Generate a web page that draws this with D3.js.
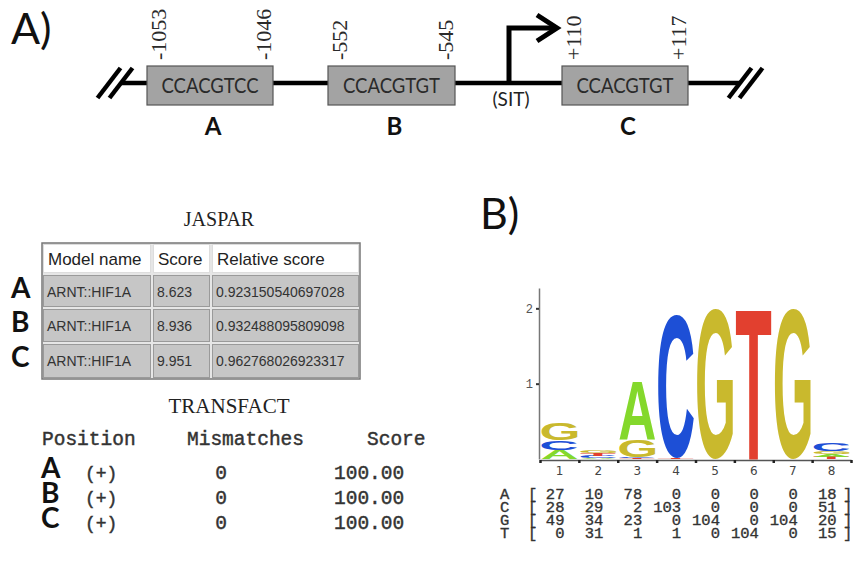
<!DOCTYPE html>
<html><head><meta charset="utf-8">
<script src="https://cdn.jsdelivr.net/npm/d3@7"></script>
<style>html,body{margin:0;padding:0;background:#fff;} svg{display:block;}</style>
</head><body>
<svg id="chart" width="861" height="569"></svg>
<script>
// ---------------- Data ----------------
const siteLabels = ["A", "B", "C"];
const siteSeqs = ["CCACGTCC", "CCACGTGT", "CCACGTGT"];
const siteStarts = [-1053, -552, 110];
const siteEnds = [-1046, -545, 117];
const startLabels = ["-1053", "-552", "+110"];
const endLabels = ["-1046", "-545", "+117"];
const tssPos = 0;
const tssLabel = "(SIT)";

const jasparTitle = "JASPAR";
const jasparHeaders = ["Model name", "Score", "Relative score"];
const jasparModels = ["ARNT::HIF1A", "ARNT::HIF1A", "ARNT::HIF1A"];
const jasparScores = ["8.623", "8.936", "9.951"];
const jasparRelScores = ["0.923150540697028", "0.932488095809098", "0.962768026923317"];

const transfactTitle = "TRANSFACT";
const transfactHeaders = ["Position", "Mismatches", "Score"];
const transfactStrands = ["(+)", "(+)", "(+)"];
const transfactMismatches = ["0", "0", "0"];
const transfactScores = ["100.00", "100.00", "100.00"];

const logoPositions = [1, 2, 3, 4, 5, 6, 7, 8];
const bases = ["A", "C", "G", "T"];
const countsA = [27, 10, 78, 0, 0, 0, 0, 18];
const countsC = [28, 29, 2, 103, 0, 0, 0, 51];
const countsG = [49, 34, 23, 0, 104, 0, 104, 20];
const countsT = [0, 31, 1, 1, 0, 104, 0, 15];
const yTickValues = [1, 2];

// ---------------- Setup ----------------
const svg = d3.select("#chart");
const sans = "Lato, 'Open Sans', sans-serif";
const serif = "'Liberation Serif', 'Times New Roman', serif";
const arial = "'Liberation Sans', Arial, sans-serif";
const mono = "'Liberation Mono', 'Courier New', monospace";

// Panel labels
svg.append("text").attr("x", 11).attr("y", 44).text("A)")
  .attr("font-family", sans).attr("font-size", 43).attr("fill", "#111");
svg.append("text").attr("x", 480).attr("y", 229).text("B)")
  .attr("font-family", sans).attr("font-size", 43).attr("fill", "#111");

// ---------------- Panel A : promoter schematic ----------------
const gx = d3.scaleLinear()
  .domain([-1250, -1053, -1046, -552, -545, tssPos, 110, 117, 300])
  .range([121, 147, 273, 328, 455, 509, 562, 688, 740]);
const lineY = 83;
const boxTop = 66, boxH = 39;
const gA = svg.append("g");

gA.append("line").attr("x1", gx(-1250)).attr("x2", gx(300))
  .attr("y1", lineY).attr("y2", lineY).attr("stroke", "#000").attr("stroke-width", 4.5);

// break marks
function slash(cx) {
  gA.append("line").attr("x1", cx - 11.5).attr("y1", lineY + 15)
    .attr("x2", cx + 11.5).attr("y2", lineY - 15)
    .attr("stroke", "#000").attr("stroke-width", 4.5);
}
slash(gx(-1250) - 12); slash(gx(-1250));
slash(gx(300)); slash(gx(300) + 11);

// TSS arrow
const tx = gx(tssPos);
gA.append("path")
  .attr("d", `M${tx},${lineY} V28 H555`)
  .attr("fill", "none").attr("stroke", "#000").attr("stroke-width", 5);
gA.append("path")
  .attr("d", `M${tx + 28},15 L${tx + 48},28 L${tx + 28},41`)
  .attr("fill", "none").attr("stroke", "#000").attr("stroke-width", 5)
  .attr("stroke-linejoin", "miter");
gA.append("text").attr("x", tx + 2).attr("y", 106).attr("text-anchor", "middle")
  .attr("font-family", sans).attr("font-size", 19).attr("fill", "#222").text(tssLabel);

siteLabels.forEach((lab, i) => {
  const x0 = gx(siteStarts[i]), x1 = gx(siteEnds[i]);
  gA.append("rect").attr("x", x0).attr("y", boxTop).attr("width", x1 - x0).attr("height", boxH)
    .attr("fill", "#a3a3a3").attr("stroke", "#555").attr("stroke-width", 1.2);
  gA.append("text").attr("x", (x0 + x1) / 2).attr("y", boxTop + 27).attr("text-anchor", "middle")
    .attr("font-family", sans).attr("font-size", 21).attr("fill", "#2a2a2a")
    .attr("textLength", 97).attr("lengthAdjust", "spacingAndGlyphs").text(siteSeqs[i]);
  gA.append("text").attr("x", (x0 + x1) / 2 + 3).attr("y", 135).attr("text-anchor", "middle")
    .attr("font-family", sans).attr("font-weight", "bold").attr("font-size", 24)
    .attr("fill", "#111").text(lab);
  // rotated coordinate labels
  [[x0 + 11, startLabels[i]], [x1 - 10, endLabels[i]]].forEach(([px, t]) => {
    gA.append("text").attr("transform", `translate(${px},60) rotate(-90)`)
      .attr("dominant-baseline", "central")
      .attr("font-family", serif).attr("font-size", 22).attr("fill", "#2a2a2a").text(t);
  });
});

// ---------------- JASPAR table ----------------
const gJ = svg.append("g");
gJ.append("text").attr("x", 219).attr("y", 226).attr("text-anchor", "middle")
  .attr("font-family", serif).attr("font-size", 20).attr("fill", "#222").text(jasparTitle);

const colEdges = [42, 152, 211, 360];
const rowEdges = [243, 274, 308, 343, 379];
gJ.append("rect").attr("x", colEdges[0]).attr("y", rowEdges[0])
  .attr("width", colEdges[3] - colEdges[0]).attr("height", rowEdges[4] - rowEdges[0])
  .attr("fill", "#e6e6e6").attr("stroke", "#777").attr("stroke-width", 1.5);
for (let r = 0; r < 4; r++) {
  for (let c = 0; c < 3; c++) {
    gJ.append("rect").attr("x", colEdges[c] + 1.5).attr("y", rowEdges[r] + 1.5)
      .attr("width", colEdges[c + 1] - colEdges[c] - 3).attr("height", rowEdges[r + 1] - rowEdges[r] - 3)
      .attr("fill", r === 0 ? "#fff" : "#c6c6c6")
      .attr("stroke", r === 0 ? "#ddd" : "#9a9a9a").attr("stroke-width", 1);
  }
}
jasparHeaders.forEach((h, c) => {
  gJ.append("text").attr("x", colEdges[c] + 6).attr("y", 265)
    .attr("font-family", arial).attr("font-size", 17).attr("fill", "#222").text(h);
});
const jRows = [jasparModels, jasparScores, jasparRelScores];
const jBase = [297, 331, 366];
siteLabels.forEach((lab, r) => {
  gJ.append("text").attr("x", 11).attr("y", jBase[r] + 1)
    .attr("font-family", sans).attr("font-weight", "bold").attr("font-size", 28)
    .attr("fill", "#111").text(lab);
  jRows.forEach((col, c) => {
    gJ.append("text").attr("x", colEdges[c] + 5).attr("y", jBase[r])
      .attr("font-family", arial).attr("font-size", 14).attr("fill", "#333").text(col[r]);
  });
});

// ---------------- TRANSFACT ----------------
const gT = svg.append("g");
gT.append("text").attr("x", 229).attr("y", 413).attr("text-anchor", "middle")
  .attr("font-family", serif).attr("font-size", 21).attr("fill", "#222").text(transfactTitle);
const monoStyle = sel => sel.attr("font-family", mono).attr("fill", "#333")
  .attr("stroke", "#333").attr("stroke-width", 0.45);
const tHeadX = [42, 187, 367];
transfactHeaders.forEach((h, c) => {
  gT.append("text").attr("x", tHeadX[c]).attr("y", 445).attr("font-size", 19.5)
    .call(monoStyle).text(h);
});
const tBase = [479, 504, 529];
siteLabels.forEach((lab, r) => {
  gT.append("text").attr("x", 41).attr("y", tBase[r] - 1)
    .attr("font-family", sans).attr("font-weight", "bold").attr("font-size", 28)
    .attr("fill", "#111").text(lab);
  gT.append("text").attr("x", 85).attr("y", tBase[r]).attr("font-size", 18)
    .call(monoStyle).text(transfactStrands[r]);
  gT.append("text").attr("x", 221).attr("y", tBase[r]).attr("text-anchor", "middle")
    .attr("font-size", 19.5).call(monoStyle).text(transfactMismatches[r]);
  gT.append("text").attr("x", 334).attr("y", tBase[r]).attr("font-size", 19.5)
    .call(monoStyle).text(transfactScores[r]);
});

// ---------------- Panel B : sequence logo ----------------
const counts = { A: countsA, C: countsC, G: countsG, T: countsT };
const baseColor = { A: "#84d82c", C: "#1d4fd6", G: "#c9b92d", T: "#e2402f" };
const lx = d3.scaleBand().domain(logoPositions).range([540, 851]);
const lxb = d3.scaleLinear().domain([0.5, 8.5]).range([540, 851]);
const ly = d3.scaleLinear().domain([0, 2.27]).range([459, 288]);

const columns = logoPositions.map((p, i) => {
  const tot = d3.sum(bases, b => counts[b][i]);
  const freqs = bases.map(b => ({ base: b, p: counts[b][i] / tot }));
  const H = -d3.sum(freqs, f => f.p > 0 ? f.p * Math.log2(f.p) : 0);
  const ic = 2 - H;
  freqs.forEach(f => f.h = f.p * ic);
  return { pos: p, stack: freqs.filter(f => f.h > 0).sort((a, b) => a.h - b.h) };
});

// glyph ink metrics via canvas
const ctx = document.createElement("canvas").getContext("2d");
const logoFont = "'Liberation Sans', Arial, sans-serif";
ctx.font = `bold 100px ${logoFont}`;
const glyph = {};
bases.forEach(b => {
  const m = ctx.measureText(b);
  glyph[b] = { l: -m.actualBoundingBoxLeft, r: m.actualBoundingBoxRight,
               t: -m.actualBoundingBoxAscent, b: m.actualBoundingBoxDescent };
});

const gL = svg.append("g");
columns.forEach(col => {
  let cum = 0;
  const x0 = lx(col.pos) + 1.5, w = lx.bandwidth() - 3;
  col.stack.forEach(f => {
    const yTop = ly(cum + f.h), yBot = ly(cum);
    cum += f.h;
    const h = yBot - yTop;
    if (h < 0.3) return;
    const g = glyph[f.base];
    const sx = w / (g.r - g.l), sy = h / (g.b - g.t);
    gL.append("text")
      .attr("transform", `translate(${x0},${yTop}) scale(${sx},${sy}) translate(${-g.l},${-g.t})`)
      .attr("font-family", logoFont).attr("font-weight", "bold").attr("font-size", 100)
      .attr("fill", baseColor[f.base]).text(f.base);
  });
});

// axes
const yAxis = svg.append("g").attr("transform", "translate(539,0)")
  .call(d3.axisLeft(ly).tickValues(yTickValues).tickSize(3).tickSizeOuter(0).tickFormat(d3.format("d")));
yAxis.select(".domain").attr("stroke", "#777").attr("stroke-width", 1.5);
yAxis.selectAll(".tick line").attr("stroke", "#333").attr("stroke-width", 2);
yAxis.selectAll(".tick text").attr("font-family", mono).attr("font-size", 12).attr("fill", "#555");

const xAxis = svg.append("g").attr("transform", "translate(0,460)")
  .call(d3.axisBottom(lxb).tickValues(d3.range(0.5, 9, 1)).tickSize(3).tickSizeOuter(0).tickFormat(""));
xAxis.select(".domain").attr("stroke", "#555").attr("stroke-width", 1.5);
xAxis.selectAll(".tick line").attr("stroke", "#222").attr("stroke-width", 2.5);

const xLab = svg.append("g").attr("transform", "translate(0,466)")
  .call(d3.axisBottom(lx).tickSize(0).tickPadding(0));
xLab.select(".domain").remove();
xLab.selectAll(".tick text").attr("font-family", "'DejaVu Sans', sans-serif")
  .attr("font-size", 12).attr("fill", "#444");

// count matrix
const gM = svg.append("g").attr("font-family", mono).attr("font-size", 15.5)
  .attr("fill", "#333").attr("stroke", "#333").attr("stroke-width", 0.35);
const mBase = [499, 512, 525, 538];
bases.forEach((b, r) => {
  gM.append("text").attr("x", 500).attr("y", mBase[r]).text(b);
  gM.append("text").attr("x", 528).attr("y", mBase[r]).text("[");
  logoPositions.forEach((p, i) => {
    gM.append("text").attr("x", lx(p) + lx.bandwidth() / 2 + 5).attr("y", mBase[r])
      .attr("text-anchor", "end").text(counts[b][i]);
  });
  gM.append("text").attr("x", 843).attr("y", mBase[r]).text("]");
});
</script>
</body></html>
